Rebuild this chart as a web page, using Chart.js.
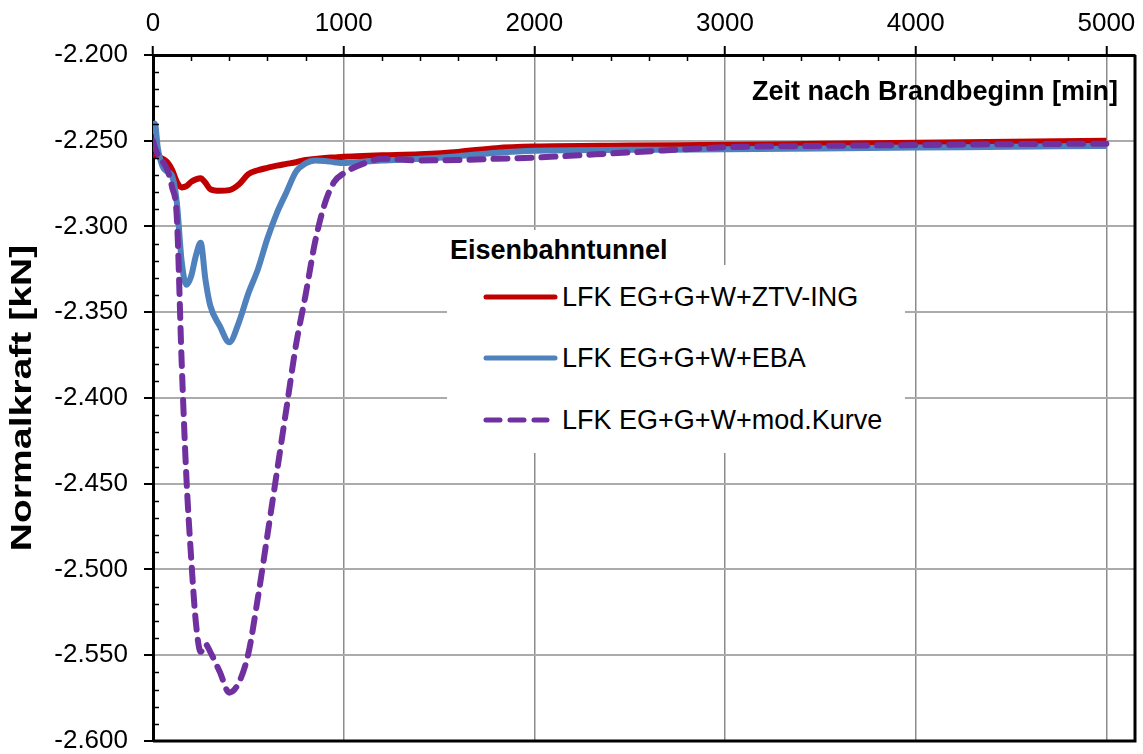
<!DOCTYPE html>
<html>
<head>
<meta charset="utf-8">
<script src="https://cdn.jsdelivr.net/npm/chart.js@4.4.1/dist/chart.umd.min.js"></script>
<style>
  body { margin: 0; background: #fff; font-family: "Liberation Sans", Arial, sans-serif; }
  #wrap { position: relative; width: 1143px; height: 754px; }
  .box { position: absolute; background: #fff; color: #000; }
  #legendTitle { left: 440px; top: 230px; width: 270px; height: 40px; line-height: 40px;
                 padding-left: 10px; box-sizing: border-box; font-weight: bold; font-size: 27px; }
  #legend { left: 447px; top: 265px; width: 458px; height: 188px; }
  .row { position: absolute; left: 36px; height: 40px; display: flex; align-items: center;
         font-size: 27px; white-space: nowrap; }
  .row svg { margin-right: 1px; }
</style>
</head>
<body>
<div id="wrap">
  <canvas id="chart"></canvas>
  <div id="legend" class="box"></div>
  <div id="legendTitle" class="box">Eisenbahntunnel</div>
</div>
<script>
// Zeit nach Brandbeginn [min]
const time = [0, 10, 25, 50, 75, 100, 125, 150, 175, 200,
  225, 250, 275, 300, 350, 400, 450, 500, 550, 600,
  650, 700, 750, 800, 850, 900, 950, 1000, 1100, 1200,
  1400, 1600, 1800, 2000, 2500, 3000, 3500, 4000, 4500, 5000];

// Normalkraft [kN]
const ztvIng = [-2.258, -2.2585, -2.259, -2.2605, -2.2625, -2.267, -2.274, -2.2772, -2.2765, -2.274,
  -2.2725, -2.2718, -2.2745, -2.2782, -2.2792, -2.2788, -2.2755, -2.2695, -2.2672, -2.2658,
  -2.2645, -2.2635, -2.2625, -2.2612, -2.2606, -2.2601, -2.2597, -2.2593, -2.2589, -2.2585,
  -2.2578, -2.2565, -2.2543, -2.2534, -2.2528, -2.2524, -2.2518, -2.2512, -2.2506, -2.2500];

const eba = [-2.246, -2.2400, -2.254, -2.265, -2.268, -2.2705, -2.286, -2.320, -2.334, -2.329,
  -2.317, -2.3095, -2.331, -2.346, -2.358, -2.3675, -2.356, -2.339, -2.325, -2.307,
  -2.292, -2.280, -2.268, -2.2632, -2.2615, -2.2618, -2.2625, -2.263, -2.2622, -2.2615,
  -2.2605, -2.259, -2.257, -2.2558, -2.2553, -2.255, -2.2545, -2.254, -2.2535, -2.253];

const modKurve = [-2.250, -2.254, -2.258, -2.262, -2.267, -2.277, -2.295, -2.378, -2.446, -2.493,
  -2.531, -2.548, -2.5435, -2.548, -2.5596, -2.5718, -2.566, -2.549, -2.5165, -2.480,
  -2.443, -2.406, -2.369, -2.340, -2.309, -2.287, -2.274, -2.269, -2.2635, -2.2605,
  -2.2615, -2.2612, -2.2605, -2.2598, -2.2568, -2.2538, -2.253, -2.2525, -2.252, -2.2517];

const seriesNames = ['LFK EG+G+W+ZTV-ING', 'LFK EG+G+W+EBA', 'LFK EG+G+W+mod.Kurve'];
const seriesColors = ['#C00000', '#4F81BD', '#7030A0'];

// axis ticks
const xTicks = [0, 1000, 2000, 3000, 4000, 5000];
const yTicks = [-2.6, -2.55, -2.5, -2.45, -2.4, -2.35, -2.3, -2.25, -2.2];
const xMin = 0, xMax = 5150, xMinorStep = 200;
const yMin = -2.6, yMax = -2.2, yMinorStep = 0.01;

const toPoints = (vals) => vals.map((v, i) => ({ x: time[i], y: v }));

Chart.defaults.font.family = '"Liberation Sans", Arial, sans-serif';
Chart.defaults.color = '#000';

// minor ticks, right/bottom frame and both axis titles
const frame = {
  id: 'frame',
  afterDraw(chart) {
    const { ctx, chartArea: a, scales: { x, y } } = chart;
    ctx.save();
    ctx.strokeStyle = '#000';
    ctx.lineWidth = 1.5;
    ctx.beginPath();
    for (let v = xMin + xMinorStep; v <= xTicks[xTicks.length - 1]; v += xMinorStep) {
      if (xTicks.includes(v)) continue;
      const px = Math.round(x.getPixelForValue(v)) + 0.5;
      ctx.moveTo(px, a.top);
      ctx.lineTo(px, a.top + 6);
    }
    for (let k = 1; k < 40; k++) {
      if (k % 5 === 0) continue;
      const py = Math.round(y.getPixelForValue(yMin + k * yMinorStep)) + 0.5;
      ctx.moveTo(a.left, py);
      ctx.lineTo(a.left + 6, py);
    }
    ctx.stroke();

    ctx.lineWidth = 3;
    ctx.beginPath();
    ctx.moveTo(a.left, a.bottom);
    ctx.lineTo(a.right, a.bottom);
    ctx.lineTo(a.right, a.top);
    ctx.stroke();

    ctx.fillStyle = '#000';
    ctx.font = 'bold 27px "Liberation Sans", Arial, sans-serif';
    ctx.textAlign = 'right';
    ctx.textBaseline = 'middle';
    ctx.fillText('Zeit nach Brandbeginn [min]', a.right - 17, a.top + 38);

    // y title is stretched along its length in the original
    ctx.translate(23, (a.top + a.bottom) / 2);
    ctx.rotate(-Math.PI / 2);
    ctx.scale(1.35, 1);
    ctx.font = 'bold 29px "Liberation Sans", Arial, sans-serif';
    ctx.textAlign = 'center';
    ctx.fillText('Normalkraft [kN]', 0, 0);
    ctx.restore();
  }
};

const chart = new Chart(document.getElementById('chart'), {
  type: 'line',
  data: {
    datasets: [
      { label: seriesNames[0], data: toPoints(ztvIng), borderColor: seriesColors[0], order: 3 },
      { label: seriesNames[1], data: toPoints(eba), borderColor: seriesColors[1], order: 2 },
      { label: seriesNames[2], data: toPoints(modKurve), borderColor: seriesColors[2], order: 1,
        borderDash: [14, 10], borderCapStyle: 'round' }
    ]
  },
  options: {
    responsive: true,
    maintainAspectRatio: false,
    animation: false,
    layout: { padding: { left: 0, top: 0, right: 8, bottom: 13 } },
    elements: {
      point: { radius: 0 },
      line: { borderWidth: 6, cubicInterpolationMode: 'monotone', fill: false }
    },
    plugins: { legend: { display: false }, tooltip: { enabled: false } },
    scales: {
      x: {
        type: 'linear',
        position: 'top',
        min: xMin,
        max: xMax,
        afterBuildTicks: (s) => { s.ticks = xTicks.map(v => ({ value: v })); },
        afterFit: (s) => { s.height = 55; s.paddingLeft = 0; s.paddingRight = 0; },
        ticks: { font: { size: 26 }, padding: 7, maxRotation: 0, autoSkip: false,
                 callback: (v) => String(v) },
        grid: { color: '#8C8C8C', lineWidth: 1.5, tickLength: 9, tickColor: '#000', tickWidth: 2 },
        border: { color: '#000', width: 3 }
      },
      y: {
        min: yMin,
        max: yMax,
        afterBuildTicks: (s) => { s.ticks = yTicks.map(v => ({ value: v })); },
        afterFit: (s) => { s.width = 153; s.paddingTop = 0; s.paddingBottom = 0; },
        ticks: { font: { size: 26 }, padding: 16, autoSkip: false,
                 callback: (v) => v.toFixed(3) },
        grid: { color: '#ABABAB', lineWidth: 2, tickLength: 9, tickColor: '#000', tickWidth: 2 },
        border: { color: '#000', width: 3 }
      }
    }
  },
  plugins: [frame]
});

// legend inside the plot, built from the datasets
const legendBox = document.getElementById('legend');
const rowTops = [12, 73, 135];
chart.data.datasets.forEach((ds, i) => {
  const row = document.createElement('div');
  row.className = 'row';
  row.style.top = rowTops[i] + 'px';
  const dash = ds.borderDash ? ds.borderDash.join(' ') : 'none';
  const x2 = ds.borderDash ? 64 : 72;
  row.innerHTML =
    '<svg width="78" height="10"><line x1="3" y1="5" x2="' + x2 + '" y2="5" stroke="' + ds.borderColor +
    '" stroke-width="5" stroke-linecap="round" stroke-dasharray="' + dash + '"/></svg>' +
    '<span>' + ds.label + '</span>';
  legendBox.appendChild(row);
});
</script>
</body>
</html>
